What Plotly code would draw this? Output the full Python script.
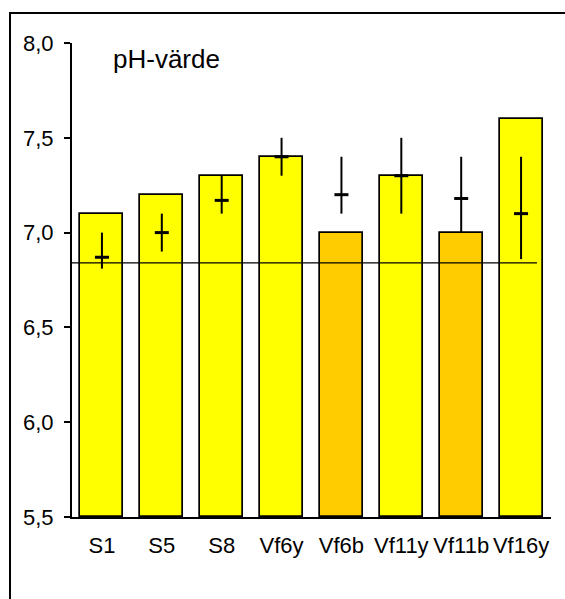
import plotly.graph_objects as go

categories = ["S1", "S5", "S8", "Vf6y", "Vf6b", "Vf11y", "Vf11b", "Vf16y"]
bar_values = [7.1, 7.2, 7.3, 7.4, 7.0, 7.3, 7.0, 7.6]
bar_colors = ["#FFFF00", "#FFFF00", "#FFFF00", "#FFFF00", "#FFCC00", "#FFFF00", "#FFCC00", "#FFFF00"]
means = [6.87, 7.0, 7.17, 7.4, 7.2, 7.3, 7.18, 7.1]
maxs = [7.0, 7.1, 7.3, 7.5, 7.4, 7.5, 7.4, 7.4]
mins = [6.81, 6.9, 7.1, 7.3, 7.1, 7.1, 7.0, 6.86]
ref_value = 6.84
y_ticks = [5.5, 6.0, 6.5, 7.0, 7.5, 8.0]
title_text = "pH-värde"

W, H = 565, 599
L, R, T, B = 72, 14, 43, 82
pw, ph = W - L - R, H - T - B

xs = list(range(len(categories)))
FONT = "Liberation Sans, Arial, sans-serif"

fig = go.Figure()
fig.add_trace(go.Bar(
    x=xs, y=[v - 5.5 for v in bar_values], base=5.5,
    width=0.72,
    marker=dict(color=bar_colors, line=dict(color="black", width=1.7)),
    showlegend=False, hoverinfo="skip",
))
fig.add_trace(go.Scatter(
    x=[-0.5, len(categories) - 1 + 0.266], y=[ref_value, ref_value],
    mode="lines", line=dict(color="black", width=1.2),
    showlegend=False, hoverinfo="skip",
))
fig.add_trace(go.Scatter(
    x=xs, y=means, mode="markers",
    marker=dict(symbol="line-ew", size=10, color="black", line=dict(color="black", width=3)),
    error_y=dict(type="data", symmetric=False,
                 array=[mx - m for mx, m in zip(maxs, means)],
                 arrayminus=[m - mn for m, mn in zip(means, mins)],
                 width=0, thickness=2, color="black"),
    showlegend=False, hoverinfo="skip",
))

fig.update_layout(
    width=W, height=H,
    margin=dict(l=L, r=R, t=T, b=B, pad=0),
    paper_bgcolor="white", plot_bgcolor="white",
    separators=", ",
    font=dict(family=FONT, size=22, color="black"),
    bargap=0,
    xaxis=dict(
        range=[-0.5, len(categories) - 0.5],
        tickmode="array", tickvals=xs, ticktext=categories,
        showline=True, linecolor="black", linewidth=2,
        ticks="", showgrid=False, zeroline=False,
        ticklabelstandoff=8,
        tickfont=dict(family=FONT, size=22, color="black"),
    ),
    yaxis=dict(
        range=[5.5, 8.0],
        tickmode="array", tickvals=y_ticks,
        ticktext=[f"{v:.1f}".replace(".", ",") for v in y_ticks],
        showline=True, linecolor="black", linewidth=2,
        ticks="outside", ticklen=6, tickwidth=2, tickcolor="black",
        showgrid=False, zeroline=False,
        ticklabelstandoff=6,
        tickfont=dict(family=FONT, size=22, color="black"),
    ),
    shapes=[dict(
        type="rect", xref="paper", yref="paper",
        x0=(10 - L) / pw, x1=(W + 10 - L) / pw,
        y0=-(B + 10) / ph,
        y1=(T + ph - 13) / ph,
        line=dict(color="black", width=2), fillcolor="rgba(0,0,0,0)", layer="above",
    )],
    annotations=[dict(
        text=title_text, xref="paper", yref="paper",
        x=(111 - L) / pw, y=(T + ph - 59) / ph,
        xanchor="left", yanchor="middle", showarrow=False,
        font=dict(family=FONT, size=26, color="black"),
    )],
)

fig.write_html("out.html")
